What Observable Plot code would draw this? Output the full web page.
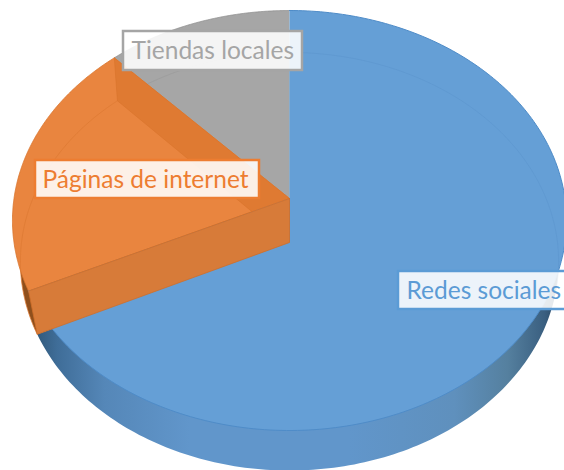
<!DOCTYPE html>
<html><head><meta charset="utf-8">
<script src="https://cdn.jsdelivr.net/npm/d3@7"></script>
<script src="https://cdn.jsdelivr.net/npm/@observablehq/plot@0.6"></script>
<style>
html,body{margin:0;padding:0;background:#fff;overflow:hidden}
svg{display:block}
g[aria-label="label box"] rect{filter:drop-shadow(2px 3px 4px rgba(70,80,90,.35))}
g[aria-label="label text"] text{filter:blur(.4px)}
</style></head><body>
<script>
// Data
const categories = ["Redes sociales", "Páginas de internet", "Tiendas locales"];
const shares = [68, 20, 12];
const labelColors = ["#5b9bd5", "#ed7d31", "#a5a5a5"];

// Layout of the tilted disc (pixels of the 564x470 frame)
const W = 564, H = 470;
const topFace = {cx: 289, cy: 198, a: 207.7, b: -0.1048, k: 275.5};
const botFace = {cx: 289, cy: 242, a: 207.3, b: -0.0909, k: 268};
const boxes = [
  {x1: 398, x2: 575, y1: 271, y2: 309, tx: 406, ty: 291},
  {x1: 35,  x2: 259, y1: 160, y2: 198, tx: 42,  ty: 180},
  {x1: 123, x2: 302, y1: 31,  y2: 70,  tx: 131, ty: 51}
];

// Slice angles, clockwise from 12 o'clock
const arcs = d3.pie().sort(null)(shares);
const project = (f, t) => {
  const u = Math.sin(t), v = -Math.cos(t), d = 1 + f.b * v;
  return {x: f.cx + f.k * u / d, y: f.cy + f.a * v / d};
};
const arcPts = (f, t0, t1) => d3.range(0, 241).map(i => project(f, t0 + (t1 - t0) * i / 240));
const center = f => ({x: f.cx, y: f.cy});
const sector = (f, s) => {
  const c = center(f);
  return [c, ...arcPts(f, s.startAngle, s.endAngle), c];
};
const wall = (s) => {
  const p = project(topFace, s), q = project(botFace, s);
  return [center(topFace), p, q, center(botFace), center(topFace)];
};
const [blue, orange, gray] = arcs;
const poly = (pts, o) => Plot.line(pts, {x: "x", y: "y", curve: "linear", stroke: "none", ...o});

const gradient = () => {
  const s = d3.create("svg:defs");
  const g = s.append("linearGradient").attr("id", "wallBlue").attr("gradientUnits", "userSpaceOnUse")
    .attr("x1", 30).attr("x2", 560).attr("y1", 0).attr("y2", 0);
  [[0, "#2e5473"], [.05, "#3f6d98"], [.14, "#5587b8"], [.3, "#6196cb"], [.6, "#6196cb"],
   [.8, "#5f90bd"], [.9, "#55809f"], [.97, "#3a5f80"], [1, "#27435c"]]
    .forEach(([o, c]) => g.append("stop").attr("offset", o).attr("stop-color", c));
  return s.node();
};

const plot = Plot.plot({
  width: W, height: H, margin: 0,
  x: {domain: [0, W], axis: null},
  y: {domain: [0, H], range: [0, H], axis: null},
  marks: [
    gradient,
    // underside
    poly(sector(botFace, orange), {fill: "#8f4f1c"}),
    poly(sector(botFace, blue), {fill: "url(#wallBlue)"}),
    // top faces
    poly(sector(topFace, gray), {fill: "#a6a6a6"}),
    poly(arcPts(topFace, gray.startAngle, gray.endAngle), {stroke: "#8d8d8d", strokeWidth: 0.8}),
    poly(arcPts(botFace, gray.startAngle, gray.endAngle), {stroke: "#9b9b9b", strokeWidth: 0.8}),
    poly(sector(topFace, orange), {fill: "#e9853f", stroke: "#d8742c", strokeWidth: 0.8}),
    poly(arcPts(botFace, orange.startAngle, orange.endAngle), {stroke: "#dd7a33", strokeWidth: 0.8}),
    poly(wall(orange.endAngle), {fill: "#df7a32", stroke: "#d8742c", strokeWidth: 0.6}),
    poly(sector(topFace, blue), {fill: "#659fd6"}),
    poly(arcPts(topFace, blue.startAngle, blue.endAngle), {stroke: "#4f8cc8", strokeWidth: 1}),
    poly(arcPts(botFace, blue.startAngle, blue.endAngle * 0.42), {stroke: "#5d97cf", strokeWidth: 0.7}),
    poly(wall(blue.endAngle), {fill: "#d77b39", stroke: "#cf6f2a", strokeWidth: 0.8}),
    // labels
    Plot.rect(boxes, {
      x1: "x1", x2: "x2", y1: "y1", y2: "y2", ariaLabel: "label box",
      fill: "white", fillOpacity: 0.88,
      stroke: (d, i) => labelColors[i], strokeWidth: 2.5
    }),
    Plot.text(categories, {
      x: (d, i) => boxes[i].tx, y: (d, i) => boxes[i].ty, text: d => d, ariaLabel: "label text",
      fill: (d, i) => labelColors[i], textAnchor: "start",
      fontFamily: "Lato", fontSize: 24.5
    })
  ],
  color: {type: "identity"},
  style: {background: "transparent"}
});
document.body.appendChild(plot);
</script>
</body></html>
